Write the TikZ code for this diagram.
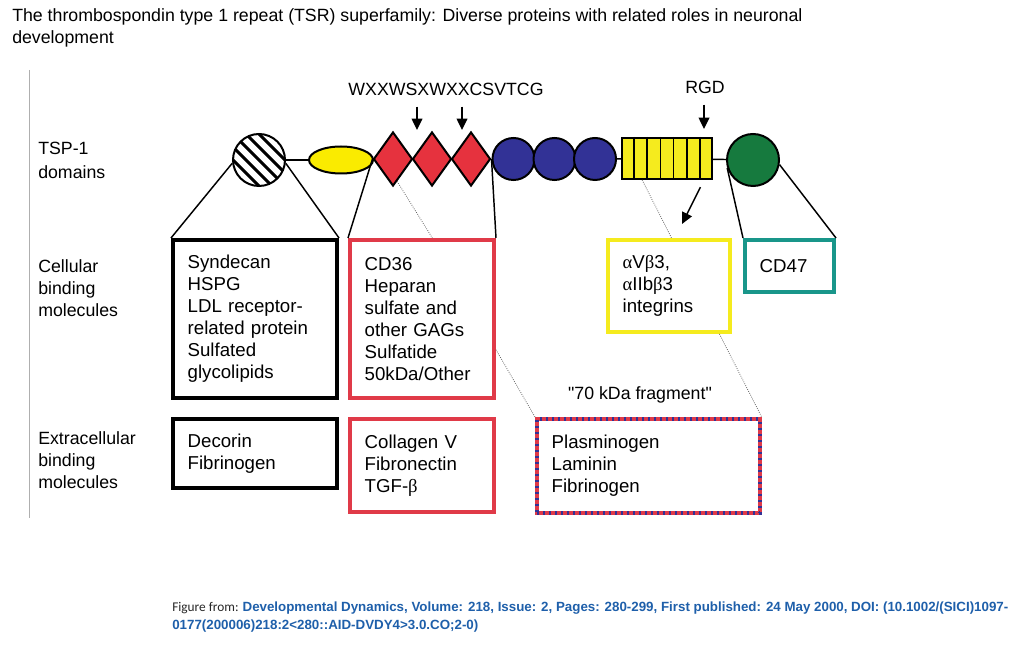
\documentclass[tikz,border=0pt]{standalone}
\usepackage{fontspec}
\usepackage{xcolor}
\usepackage{tikz}
\usetikzlibrary{shapes.geometric,calc,arrows.meta}
\setmainfont{Liberation Sans}
\newfontfamily\plainfont{Liberation Sans}
\newfontfamily\greekfont{Liberation Serif}
\newfontfamily\notefont{Carlito}
\makeatletter
\renewcommand\small{%
  \@setfontsize\small{14pt}{16.5pt}%
}
\renewcommand\footnotesize{%
  \@setfontsize\footnotesize{13.3pt}{16.5pt}%
}
\renewcommand\large{%
  \@setfontsize\large{13.3pt}{16.5pt}%
}
\renewcommand\tiny{%
  \@setfontsize\tiny{10pt}{13.5pt}%
}
\makeatother
\definecolor{tsrred}{RGB}{230,50,62}
\definecolor{boxred}{RGB}{224,58,72}
\definecolor{pcyellow}{RGB}{250,235,0}
\definecolor{egfblue}{RGB}{50,50,150}
\definecolor{ctdgreen}{RGB}{22,122,62}
\definecolor{cdteal}{RGB}{25,150,138}
\definecolor{intyellow}{RGB}{245,235,30}
\definecolor{refblue}{RGB}{30,95,170}
\definecolor{framegray}{RGB}{175,175,175}
\tikzset{
  domshape/.style={draw, line width=1.5pt, inner sep=0pt},
  cellbox/.style={draw, line width=3pt, anchor=north west, align=left, inner xsep=11pt, inner ysep=0pt},
  link/.style={line width=1.1pt},
  hint/.style={densely dotted, line width=0.6pt, black!60},
}
\begin{document}
\begin{tikzpicture}[x=0.75pt, y=-0.75pt, >={Triangle[length=8.5pt,width=8pt]}, every node/.style={font=\small}]
  \useasboundingbox (0,0) rectangle (1024,655);
  \node[anchor=north west, align=left, inner sep=0pt, font=\large] (title) at (12,8)
    {The thrombospondin type 1 repeat (TSR) superfamily: Diverse proteins with related roles in neuronal\\development};
  \draw[framegray, line width=0.75pt] (29,70) -- (29,518);
  % row labels
  \node[anchor=west, align=left, inner sep=0pt, font=\footnotesize] (rowdom) at (38,160) {TSP-1\\[1.5pt]domains};
  \node[anchor=west, align=left, inner sep=0pt, font=\footnotesize] (rowcell) at (38,288) {Cellular\\binding\\molecules};
  \node[anchor=west, align=left, inner sep=0pt, font=\footnotesize] (rowext) at (38,460) {Extracellular\\binding\\molecules};
  % domains
  \node[domshape, circle, minimum size=39pt, path picture={
      \foreach \d in {-39,-26,...,39}
        \draw[line width=2.3pt, shift={(path picture bounding box.center)}] ({\d-40},-40) -- ++(80,80);
    }] (hep) at (259,160) {};
  \node[domshape, ellipse, fill=pcyellow, minimum width=48pt, minimum height=20.25pt] (pc) at (341,160) {};
  \node[domshape, diamond, fill=tsrred, minimum width=29.25pt, minimum height=40.5pt] (tsr1) at (393,159) {};
  \node[domshape, diamond, fill=tsrred, minimum width=29.25pt, minimum height=40.5pt] (tsr2) at (432,159) {};
  \node[domshape, diamond, fill=tsrred, minimum width=29.25pt, minimum height=40.5pt] (tsr3) at (471,159) {};
  \node[domshape, circle, fill=egfblue, minimum size=31.5pt] (egf1) at (513.5,159) {};
  \node[domshape, circle, fill=egfblue, minimum size=31.5pt] (egf2) at (554.5,159) {};
  \node[domshape, circle, fill=egfblue, minimum size=31.5pt] (egf3) at (595,159) {};
  \node[domshape, rectangle, fill=intyellow, minimum width=67.5pt, minimum height=30.75pt] (ca) at (667,158.5) {};
  \foreach \k in {1,...,6}
    \draw[line width=1.2pt] ($(ca.north west)!\k/7!(ca.north east)$) -- ($(ca.south west)!\k/7!(ca.south east)$);
  \node[domshape, circle, fill=ctdgreen, minimum size=39pt] (ctd) at (753,160) {};
  \draw[link] (hep) -- (pc);
  \draw[link] (egf3) -- (ca);
  \draw[link] (ca) -- (ctd);
  % motif labels
  \node[font=\footnotesize] (wxx) at (446,89) {WXXWSXWXXCSVTCG};
  \node[font=\footnotesize] (rgd) at (705,87) {RGD};
  \coordinate (tsrtipA) at (417,130);
  \coordinate (tsrtipB) at (462,130);
  \coordinate (rgdtip) at (704,129);
  \coordinate (inttip) at (682,224);
  \draw[->, link, shorten <=5pt] (tsrtipA |- wxx.south) -- (tsrtipA);
  \draw[->, link, shorten <=5pt] (tsrtipB |- wxx.south) -- (tsrtipB);
  \draw[->, link, shorten <=5pt] (rgdtip |- rgd.south) -- (rgdtip);
  \draw[->, link, shorten <=6pt] (ca.south -| rgdtip) -- (inttip);
  % binding boxes
  \node[cellbox, text width=101pt, minimum height=118.5pt] (cellA) at (171,238)
    {Syndecan\\HSPG\\LDL receptor-\\related protein\\Sulfated\\glycolipids};
  \node[cellbox, draw=boxred, text width=86pt, minimum height=118.5pt] (cellB) at (348,238)
    {CD36\\Heparan\\sulfate and\\other GAGs\\Sulfatide\\50kDa/Other};
  \node[cellbox, draw=intyellow, text width=69.5pt, minimum height=69pt] (cellC) at (606,238)
    {{\greekfont α}V{\greekfont β}3,\\{\greekfont α}IIb{\greekfont β}3\\integrins};
  \node[cellbox, draw=cdteal, text width=44.75pt, minimum height=39pt] (cellD) at (743,238) {CD47};
  \node[cellbox, text width=101pt, minimum height=51.75pt] (extA) at (171,417) {Decorin\\Fibrinogen};
  \node[cellbox, draw=boxred, text width=86pt, minimum height=69.75pt] (extB) at (348,417)
    {Collagen V\\Fibronectin\\TGF-{\greekfont β}};
  \node[cellbox, draw=boxred, postaction={draw=egfblue, line width=3pt, dash pattern=on 1.5pt off 3pt},
    text width=145pt, minimum height=70.5pt] (extC) at (535,417) {Plasminogen\\Laminin\\Fibrinogen};
  \node[font=\footnotesize] (frag) at (640,395) {\plainfont "70 kDa fragment"};
  % connectors to the boxes
  \draw[link] (hep.187) -- (cellA.north west);
  \draw[link] (hep.-7) -- (cellA.north east);
  \draw[link] (tsr1.west) -- (cellB.north west);
  \draw[link] (tsr3.east) -- (cellB.north east);
  \draw[link] (ctd.197) -- (cellD.north west);
  \draw[link] (ctd.-10) -- (cellD.north east);
  \draw[hint] ($(tsr1.south)!0.2!(tsr1.east)$) -- ($(cellB.north west)!0.57!(cellB.north east)$);
  \draw[hint] ($(ca.south west)!0.23!(ca.south east)$) -- ($(cellC.north west)!0.52!(cellC.north east)$);
  \draw[hint] ($(cellB.north east)!0.69!(cellB.south east)$) -- (extC.north west);
  \draw[hint] ($(cellC.south west)!0.9!(cellC.south east)$) -- (extC.north east);
  % source line
  \node[anchor=north west, align=left, inner sep=0pt, font=\tiny] (source) at (172,602)
    {{\notefont\color{black!85}Figure from: }{\bfseries\color{refblue}Developmental Dynamics, Volume: 218, Issue: 2, Pages: 280-299, First published: 24 May 2000, DOI: (10.1002/(SICI)1097-}\\{\bfseries\color{refblue}0177(200006)218:2<280::AID-DVDY4>3.0.CO;2-0)}};
\end{tikzpicture}
\end{document}
